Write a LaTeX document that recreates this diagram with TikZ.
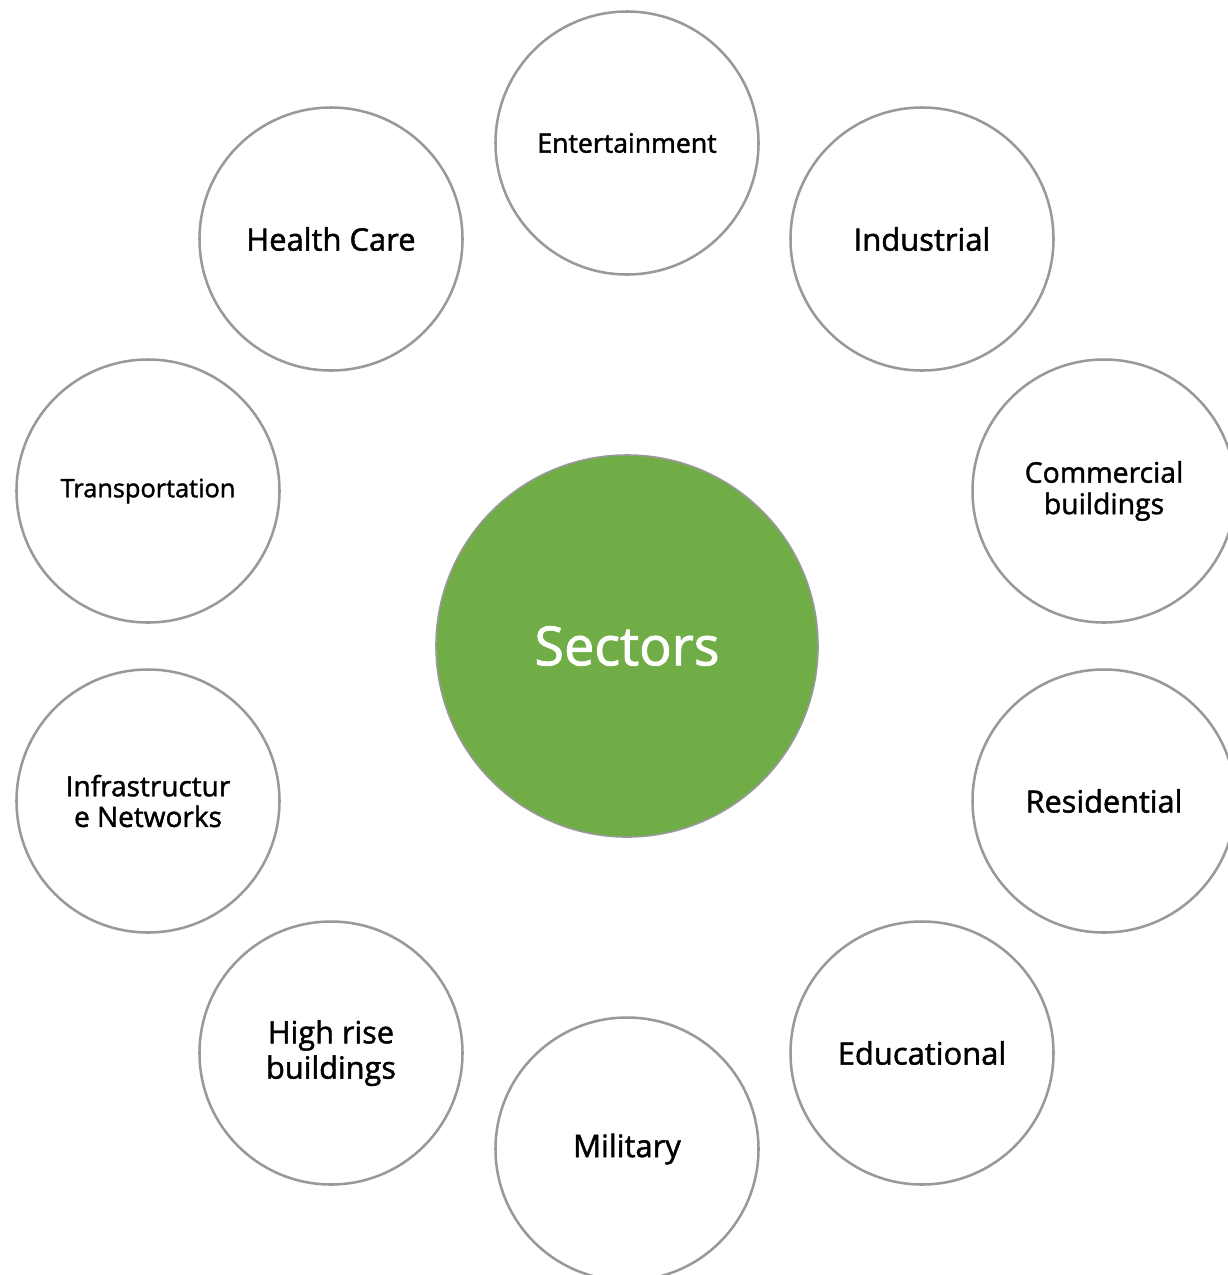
\documentclass[tikz,border=0pt]{standalone}
\usepackage{fontspec}
\setmainfont{Open Sans}[BoldFont=Open Sans, BoldFeatures={FakeBold=1.5}]
\definecolor{ringgray}{HTML}{999999}
\definecolor{secgreen}{HTML}{70AD47}
\newcommand{\fs}[2]{\fontsize{#1pt}{#2pt}\selectfont\bfseries}
\begin{document}
\begin{tikzpicture}[x=0.75pt,y=-0.75pt,
  sector/.style={circle,draw=ringgray,line width=1.9pt,fill=white,minimum size=197.25pt,inner sep=0pt,align=center,text=black},
  hub/.style={circle,draw=ringgray,line width=1.2pt,fill=secgreen,minimum size=286.5pt,inner sep=0pt,align=center,text=white}]
\useasboundingbox (0,0) rectangle (1228,1275);
\clip (0,0) rectangle (1228,1275);
\node[hub,font=\fs{40.5}{46}] (hub) at (627,646) {Sectors};
\node[sector,font=\fs{20}{24}] (ent) at (627,143) {Entertainment};
\node[sector,font=\fs{23.2}{27}] (ind) at (922,239) {Industrial};
\node[sector,font=\fs{21.3}{23.5}] (com) at (1104,491) {Commercial\\buildings};
\node[sector,font=\fs{23}{24}] (res) at (1104,801) {Residential};
\node[sector,font=\fs{23.2}{27}] (edu) at (922,1053) {Educational};
\node[sector,font=\fs{23.2}{27}] (mil) at (627,1149) {Military};
\node[sector,font=\fs{23}{26.5}] (hig) at (331,1053) {High rise\\buildings};
\node[sector,font=\fs{21}{23}] (inf) at (148,801) {Infrastructur\\e Networks};
\node[sector,font=\fs{19}{23}] (tra) at (148,491) {Transportation};
\node[sector,font=\fs{23.2}{27}] (hea) at (331,239) {Health Care};
\end{tikzpicture}
\end{document}
